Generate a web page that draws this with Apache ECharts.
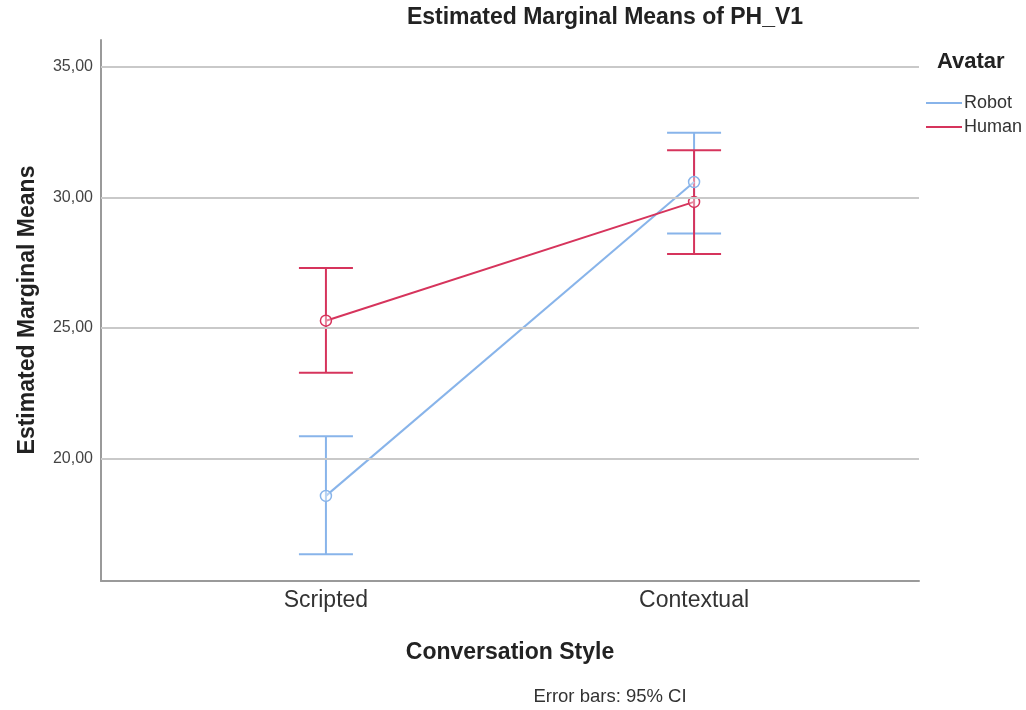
<!DOCTYPE html>
<html>
<head>
<meta charset="utf-8">
<script src="https://cdn.jsdelivr.net/npm/echarts@6/dist/echarts.min.js"></script>
<style>
html,body{margin:0;padding:0;background:#fff;}
#chart{width:1026px;height:710px;}
</style>
</head>
<body>
<div id="chart"></div>
<script>
// ---- data ----
const categories = ['Scripted', 'Contextual'];
const groups = ['Robot', 'Human'];
const robotMean  = [18.57, 30.59];
const robotLower = [16.33, 28.62];
const robotUpper = [20.85, 32.48];
const humanMean  = [25.28, 29.83];
const humanLower = [23.29, 27.83];
const humanUpper = [27.30, 31.81];
const yTicks = [20, 25, 30, 35];
const yTickLabels = ['20,00', '25,00', '30,00', '35,00'];

const FONT = '"Liberation Sans", Arial, sans-serif';
const colors = { Robot: '#88b4ea', Human: '#d6345c' };

const chart = echarts.init(document.getElementById('chart'), null, { renderer: 'canvas' });

function errorSeries(name, lower, upper) {
  return {
    name: name,
    type: 'custom',
    z: 3,
    color: colors[name],
    data: categories.map((c, i) => [i, lower[i], upper[i]]),
    renderItem: function (params, api) {
      const x = api.value(0);
      const lo = api.coord([x, api.value(1)]);
      const hi = api.coord([x, api.value(2)]);
      const hw = 27;
      const st = { stroke: colors[name], lineWidth: 2 };
      return {
        type: 'group',
        children: [
          { type: 'line', shape: { x1: lo[0], y1: lo[1], x2: hi[0], y2: hi[1] }, style: st },
          { type: 'line', shape: { x1: lo[0] - hw, y1: lo[1], x2: lo[0] + hw, y2: lo[1] }, style: st },
          { type: 'line', shape: { x1: hi[0] - hw, y1: hi[1], x2: hi[0] + hw, y2: hi[1] }, style: st }
        ]
      };
    }
  };
}

function meanSeries(name, mean) {
  return {
    name: name,
    type: 'line',
    z: 4,
    color: colors[name],
    data: categories.map((c, i) => [i, mean[i]]),
    symbol: 'circle',
    symbolSize: 11,
    showSymbol: true,
    itemStyle: { color: 'rgba(255,255,255,0.4)', borderColor: colors[name], borderWidth: 1.5, opacity: 1 },
    lineStyle: { color: colors[name], width: 2 },
    emphasis: { disabled: true },
    animation: false
  };
}

const gridLineSeries = {
  type: 'line',
  data: [],
  silent: true,
  z: 1,
  markLine: {
    silent: true,
    symbol: ['none', 'none'],
    label: { show: false },
    lineStyle: { color: '#c9c9c9', width: 2, type: 'solid' },
    data: yTicks.map(v => ({ yAxis: v }))
  }
};

chart.setOption({
  animation: false,
  backgroundColor: '#ffffff',
  grid: { left: 101, top: 40, right: 107, bottom: 129 },
  xAxis: {
    type: 'value',
    min: -0.611,
    max: 1.611,
    axisLine: { show: true, onZero: false, lineStyle: { color: '#9a9a9a', width: 2 } },
    axisTick: { show: false },
    splitLine: { show: false },
    axisLabel: {
      customValues: [0, 1],
      formatter: v => categories[Math.round(v)] || '',
      fontFamily: FONT, fontSize: 23, color: '#333', margin: 8
    }
  },
  yAxis: {
    type: 'value',
    min: 15.31,
    max: 36.03,
    axisLine: { show: true, onZero: false, lineStyle: { color: '#9a9a9a', width: 2 } },
    axisTick: { show: false },
    splitLine: { show: false },
    axisLabel: {
      customValues: yTicks,
      formatter: v => { const i = yTicks.indexOf(Math.round(v)); return i >= 0 ? yTickLabels[i] : ''; },
      fontFamily: FONT, fontSize: 16, color: '#444', margin: 8
    }
  },
  legend: {
    data: groups.map(g => ({ name: g, itemStyle: { color: colors[g] } })),
    orient: 'vertical',
    left: 921,
    top: 89,
    icon: 'rect',
    itemWidth: 36,
    itemHeight: 2,
    itemGap: 6,
    selectedMode: false,
    textStyle: { fontFamily: FONT, fontSize: 18, color: '#333', padding: [0, 0, 0, -3] }
  },
  graphic: [
    { type: 'text', x: 605, y: 18, style: { text: 'Estimated Marginal Means of PH_V1', font: 'bold 23px ' + FONT, fill: '#222', textAlign: 'center', textVerticalAlign: 'middle' } },
    { type: 'text', x: 28, y: 310, rotation: Math.PI / 2, style: { text: 'Estimated Marginal Means', font: 'bold 23px ' + FONT, fill: '#222', textAlign: 'center', textVerticalAlign: 'middle' } },
    { type: 'text', x: 510, y: 653, style: { text: 'Conversation Style', font: 'bold 23px ' + FONT, fill: '#222', textAlign: 'center', textVerticalAlign: 'middle' } },
    { type: 'text', x: 610, y: 697, style: { text: 'Error bars: 95% CI', font: '18.5px ' + FONT, fill: '#333', textAlign: 'center', textVerticalAlign: 'middle' } },
    { type: 'text', x: 937, y: 62, style: { text: 'Avatar', font: 'bold 22px ' + FONT, fill: '#222', textAlign: 'left', textVerticalAlign: 'middle' } }
  ],
  series: [
    gridLineSeries,
    errorSeries('Robot', robotLower, robotUpper),
    meanSeries('Robot', robotMean),
    errorSeries('Human', humanLower, humanUpper),
    meanSeries('Human', humanMean)
  ]
});
</script>
</body>
</html>
